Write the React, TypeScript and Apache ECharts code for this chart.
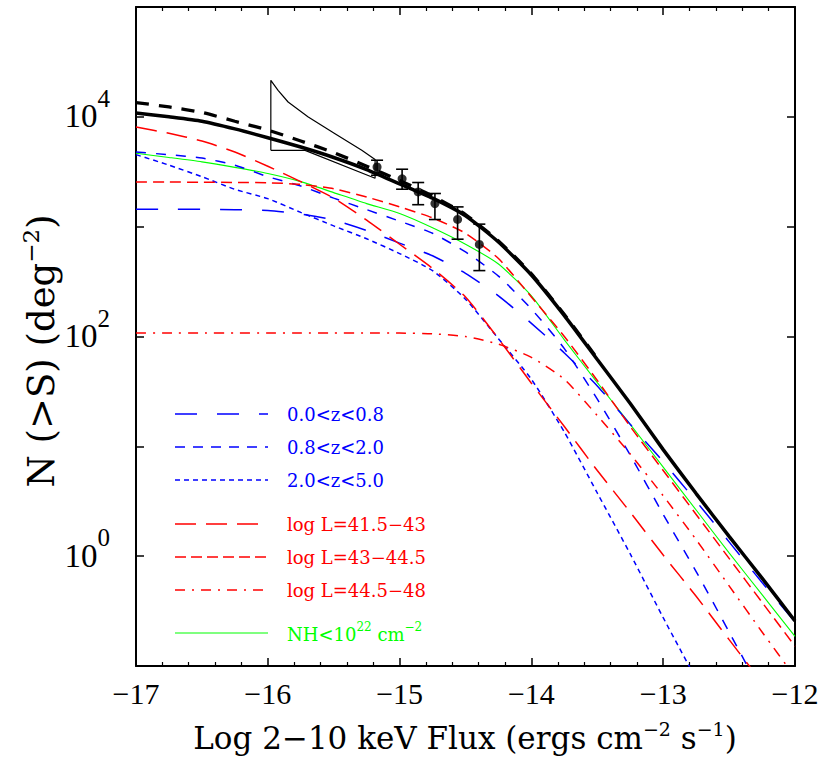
import React, { useEffect, useRef } from "react";
import * as echarts from "echarts";

// Log 2-10 keV flux grid (ergs cm^-2 s^-1, log10)
const flux = [-17, -16.75, -16.5, -16.25, -16, -15.75, -15.5, -15.25, -15, -14.75, -14.5, -14.25, -14, -13.75, -13.5, -13.25, -13, -12.75, -12.5, -12.25, -12];

// log10 N(>S) (deg^-2)
const totalModel = [4.035, 4.0, 3.96, 3.89, 3.81, 3.725, 3.63, 3.52, 3.39, 3.26, 3.1, 2.86, 2.56, 2.19, 1.79, 1.39, 0.97, 0.57, 0.18, -0.2, -0.59];
const totalAlt = [4.13, 4.09, 4.04, 3.96, 3.88, 3.78, 3.675, 3.55, 3.42, 3.28, 3.11, 2.87, 2.57, 2.2, 1.8, null, null, null, null, null, null];
const zLow = [3.159, 3.159, 3.158, 3.155, 3.148, 3.115, 3.06, 2.965, 2.85, 2.735, 2.575, 2.37, 2.12, 1.85, 1.55, 1.2, 0.86, 0.5, 0.13, -0.24, -0.6];
const zMid = [3.68, 3.655, 3.625, 3.56, 3.455, 3.37, 3.26, 3.155, 3.05, 2.94, 2.77, 2.55, 2.25, 1.89, 1.43, 0.92, 0.38, -0.14, -0.69, -1.25, null];
const zHigh = [3.656, 3.56, 3.455, 3.34, 3.255, 3.13, 3.007, 2.89, 2.755, 2.6, 2.34, 1.98, 1.61, 1.13, 0.575, 0.02, -0.56, -1.12, null, null, null];
const lumLow = [3.907, 3.85, 3.78, 3.68, 3.55, 3.41, 3.26, 3.06, 2.84, 2.62, 2.36, 1.98, 1.575, 1.18, 0.78, 0.4, 0.01, -0.365, -0.76, -1.15, null];
const lumMid = [3.407, 3.406, 3.405, 3.403, 3.4, 3.385, 3.345, 3.27, 3.18, 3.08, 2.94, 2.71, 2.36, 2.0, 1.6, 1.18, 0.78, 0.38, -0.02, -0.42, -0.82];
const lumHigh = [2.032, 2.032, 2.032, 2.032, 2.032, 2.032, 2.032, 2.032, 2.031, 2.025, 2.0, 1.93, 1.81, 1.61, 1.28, 0.93, 0.55, 0.15, -0.27, -0.69, -1.1];
const unabsorbed = [3.668, 3.63, 3.59, 3.54, 3.484, 3.41, 3.31, 3.21, 3.12, 2.99, 2.84, 2.66, 2.37, 1.97, 1.58, 1.2, 0.81, 0.42, 0.03, -0.35, -0.73];

// Observed counts with error bars (log10 values)
const obsFlux = [-15.171, -14.981, -14.859, -14.732, -14.56, -14.395];
const obsLogN = [3.544, 3.436, 3.316, 3.211, 3.066, 2.838];
const obsHi = [3.605, 3.523, 3.402, 3.302, 3.18, 3.023];
const obsLo = [3.468, 3.341, 3.2, 3.065, 2.886, 2.6];

// Fluctuation-analysis wedge outline
const wedgeFlux = [-15.977, -15.977, -15.922, -15.846, -15.693, -15.49, -15.287, -15.186, -15.186, -15.717, -15.977];
const wedgeLogN = [3.695, 4.332, 4.241, 4.135, 3.998, 3.847, 3.695, 3.611, 3.441, 3.695, 3.695];

const legendLabels = ["0.0<z<0.8", "0.8<z<2.0", "2.0<z<5.0", "log L=41.5\u221243", "log L=43\u221244.5", "log L=44.5\u221248"];

const pairs = (ys: (number | null)[]) =>
  flux.map((x, i) => (ys[i] == null ? null : [x, ys[i]])).filter((p) => p !== null) as number[][];

const BLUE = "#0000ff";
const RED = "#ff0000";
const GREEN = "#00ff00";

const minus = (v: number) => (v < 0 ? "\u2212" + Math.abs(v) : String(v));

function buildOption(): any {
  const lineSeries = (name: string, ys: (number | null)[], color: string, width: number, type: any, z: number) => ({
    name,
    type: "line",
    data: pairs(ys),
    showSymbol: false,
    symbol: "none",
    smooth: 0.2,
    clip: true,
    z,
    lineStyle: { color, width, type },
  });

  const axisLine = { show: true, onZero: false, lineStyle: { color: "#000", width: 2 } };
  const tick = { show: true, inside: true, length: 8, lineStyle: { color: "#000", width: 1.5 } };
  const minor = { show: true, splitNumber: 5, length: 4, lineStyle: { color: "#000", width: 1.2 } };

  const legendY = [414, 447, 480, 524, 557, 590, 633];
  const legendStyles: { color: string; dash: number[] | null; width: number }[] = [
    { color: BLUE, dash: [22, 20], width: 1.5 },
    { color: BLUE, dash: [10, 8], width: 1.5 },
    { color: BLUE, dash: [5, 4], width: 1.5 },
    { color: RED, dash: [21, 10], width: 1.5 },
    { color: RED, dash: [11, 5], width: 1.5 },
    { color: RED, dash: [10, 7, 2, 7], width: 1.5 },
    { color: GREEN, dash: null, width: 1.1 },
  ];
  const graphics: any[] = [];
  legendStyles.forEach((s, i) => {
    graphics.push({
      type: "line",
      shape: { x1: 175, y1: legendY[i], x2: 268, y2: legendY[i] },
      style: { stroke: s.color, lineWidth: s.width, lineDash: s.dash || undefined },
    });
    if (i < legendLabels.length) {
      graphics.push({
        type: "text",
        x: 287,
        y: legendY[i],
        style: {
          text: legendLabels[i],
          fill: s.color,
          fontFamily: "DejaVu Serif",
          fontSize: 18,
          textAlign: "left",
          textVerticalAlign: "middle",
        },
      });
    }
  });
  graphics.push({
    type: "text",
    x: 287,
    y: legendY[6],
    style: {
      text: "{t|NH<10}{s|22}{t| cm}{s|\u22122}",
      fill: GREEN,
      textAlign: "left",
      textVerticalAlign: "middle",
      rich: {
        t: { fontFamily: "DejaVu Serif", fontSize: 18, fill: GREEN, lineHeight: 20, verticalAlign: "bottom" },
        s: { fontFamily: "DejaVu Serif", fontSize: 12, fill: GREEN, lineHeight: 13, padding: [0, 0, 10, 0], verticalAlign: "bottom" },
      },
    },
  });
  // axis titles
  graphics.push({
    type: "text",
    x: 465,
    y: 737,
    style: {
      text: "{t|Log 2\u221210 keV Flux (ergs cm}{s|\u22122}{t| s}{s|\u22121}{t|)}",
      textAlign: "center",
      textVerticalAlign: "middle",
      rich: {
        t: { fontFamily: "DejaVu Serif", fontSize: 31, fill: "#000", lineHeight: 32, verticalAlign: "bottom" },
        s: { fontFamily: "DejaVu Serif", fontSize: 19, fill: "#000", lineHeight: 20, padding: [0, 0, 15, 0], verticalAlign: "bottom" },
      },
    },
  });
  graphics.push({
    type: "text",
    x: 41,
    y: 351,
    rotation: Math.PI / 2,
    style: {
      text: "{t|N (>S) (deg}{s|\u22122}{t|)}",
      textAlign: "center",
      textVerticalAlign: "middle",
      rich: {
        t: { fontFamily: "DejaVu Serif", fontSize: 37, fill: "#000", lineHeight: 38, verticalAlign: "bottom" },
        s: { fontFamily: "DejaVu Serif", fontSize: 23, fill: "#000", lineHeight: 24, padding: [0, 0, 18, 0], verticalAlign: "bottom" },
      },
    },
  });

  return {
    animation: false,
    backgroundColor: "#fff",
    grid: { left: 136, right: 35, top: 7, bottom: 93, containLabel: false, outerBoundsMode: "none" },
    xAxis: [
      {
        type: "value",
        min: -17,
        max: -12,
        interval: 1,
        position: "bottom",
        axisLine,
        axisTick: tick,
        minorTick: minor,
        splitLine: { show: false },
        axisLabel: {
          formatter: (v: number) => minus(Math.round(v)),
          fontFamily: "Liberation Serif",
          fontSize: 30,
          color: "#000",
          margin: 12,
        },
      },
      {
        type: "value",
        min: -17,
        max: -12,
        interval: 1,
        position: "top",
        axisLine,
        axisTick: tick,
        minorTick: minor,
        splitLine: { show: false },
        axisLabel: { show: false },
      },
    ],
    yAxis: [
      {
        type: "value",
        min: -1,
        max: 5,
        interval: 1,
        position: "left",
        axisLine,
        axisTick: tick,
        splitLine: { show: false },
        axisLabel: {
          margin: 26,
          formatter: (v: number) => {
            const e = Math.round(v);
            return e >= 0 && e % 2 === 0 ? `{b|10}{s|${e}}` : "";
          },
          rich: {
            b: { fontFamily: "Liberation Serif", fontSize: 33, color: "#000", lineHeight: 32, verticalAlign: "bottom" },
            s: { fontFamily: "Liberation Serif", fontSize: 25, color: "#000", lineHeight: 24, padding: [0, 0, 22, 0], verticalAlign: "bottom" },
          },
        },
      },
      {
        type: "value",
        min: -1,
        max: 5,
        interval: 1,
        position: "right",
        axisLine,
        axisTick: tick,
        splitLine: { show: false },
        axisLabel: { show: false },
      },
    ],
    graphic: graphics,
    series: [
      lineSeries("NH<1e22", unabsorbed, GREEN, 1.1, "solid", 2),
      lineSeries("0.0<z<0.8", zLow, BLUE, 1.5, [22, 20], 3),
      lineSeries("0.8<z<2.0", zMid, BLUE, 1.5, [10, 10], 3),
      lineSeries("2.0<z<5.0", zHigh, BLUE, 1.5, [5, 4], 3),
      lineSeries("log L=41.5-43", lumLow, RED, 1.5, [21, 10], 3),
      lineSeries("log L=43-44.5", lumMid, RED, 1.5, [11, 6], 3),
      lineSeries("log L=44.5-48", lumHigh, RED, 1.5, [10, 7, 2, 7], 3),
      {
        name: "wedge",
        type: "line",
        data: wedgeFlux.map((x, i) => [x, wedgeLogN[i]]),
        showSymbol: false,
        symbol: "none",
        smooth: false,
        z: 4,
        lineStyle: { color: "#000", width: 1.2 },
      },
      lineSeries("total (alt)", totalAlt, "#000", 3.3, [13, 10], 5),
      lineSeries("total", totalModel, "#000", 3.5, "solid", 6),
      {
        name: "errors",
        type: "custom",
        z: 8,
        data: obsFlux.map((x, i) => [x, obsLo[i], obsHi[i]]),
        encode: { x: 0, y: [1, 2] },
        renderItem: (_params: any, api: any) => {
          const x = api.value(0);
          const lo = api.coord([x, api.value(1)]);
          const hi = api.coord([x, api.value(2)]);
          const w = 6;
          const st = { stroke: "#000", lineWidth: 1.6 };
          return {
            type: "group",
            children: [
              { type: "line", shape: { x1: lo[0], y1: lo[1], x2: hi[0], y2: hi[1] }, style: st },
              { type: "line", shape: { x1: hi[0] - w, y1: hi[1], x2: hi[0] + w, y2: hi[1] }, style: st },
              { type: "line", shape: { x1: lo[0] - w, y1: lo[1], x2: lo[0] + w, y2: lo[1] }, style: st },
            ],
          };
        },
      },
      {
        name: "observed",
        type: "scatter",
        z: 9,
        symbol: "circle",
        symbolSize: 9,
        itemStyle: { color: "#000" },
        data: obsFlux.map((x, i) => [x, obsLogN[i]]),
      },
    ],
  };
}

export default function App() {
  const ref = useRef<HTMLDivElement>(null);
  useEffect(() => {
    if (!ref.current) return;
    const chart = echarts.init(ref.current, null, { renderer: "svg" });
    chart.setOption(buildOption());
    return () => chart.dispose();
  }, []);
  return (
    <div
      ref={ref}
      style={{ position: "fixed", left: 0, top: 0, width: 830, height: 759, background: "#fff" }}
    />
  );
}
